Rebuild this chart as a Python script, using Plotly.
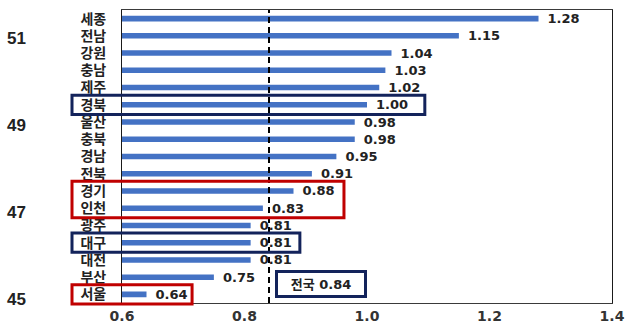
import plotly.graph_objects as go

# Regional index values (top to bottom)
regions = ["세종", "전남", "강원", "충남", "제주", "경북", "울산", "충북", "경남",
           "전북", "경기", "인천", "광주", "대구", "대전", "부산", "서울"]
values = [1.28, 1.15, 1.04, 1.03, 1.02, 1.00, 0.98, 0.98, 0.95,
          0.91, 0.88, 0.83, 0.81, 0.81, 0.81, 0.75, 0.64]
national = 0.84
x_ticks = [0.6, 0.8, 1.0, 1.2, 1.4]
left_ticks = [45, 47, 49, 51]

# highlighted groups: (first region, last region, colour, right edge in x-domain units)
navy = "#13235B"
red = "#C00000"
highlights = [
    ("경북", "경북", navy, 0.618),
    ("경기", "인천", red, 0.453),
    ("대구", "대구", navy, 0.363),
    ("서울", "서울", red, 0.143),
]

NUM_FONT = "DejaVu Sans, Liberation Sans"
KR_FONT = "Noto Sans CJK KR"

W, H = 631, 330
ML, MR, MT, MB = 0, 19, 10, 27
plot_left = 122
x_dom0 = (plot_left - ML) / (W - ML - MR)
n = len(regions)

fig = go.Figure()
fig.add_trace(go.Bar(
    y=regions, x=values, orientation="h",
    width=0.32,
    marker=dict(color="#4472C4", line=dict(width=0)),
    text=[f"\u00a0\u00a0{v:.2f}" for v in values],
    textposition="outside",
    constraintext="none",
    cliponaxis=False,
    outsidetextfont=dict(family=NUM_FONT, size=13, color="#222222", weight="bold"),
    hoverinfo="skip",
    showlegend=False,
))
# carrier for the secondary (left) scale
fig.add_trace(go.Scatter(
    x=[x_ticks[0]] * len(left_ticks), y=left_ticks, yaxis="y2",
    mode="markers", marker=dict(opacity=0), hoverinfo="skip", showlegend=False,
))

# national average line
fig.add_shape(type="line", xref="x", yref="y domain", x0=national, x1=national, y0=0, y1=1,
              line=dict(color="black", width=2, dash="6px,4px"), layer="above")

def row_dom(i):
    return 1 - (i + 0.5) / n

for first, last, col, xr in highlights:
    i0, i1 = regions.index(first), regions.index(last)
    fig.add_shape(type="rect", xref="x domain", yref="y domain",
                  x0=(72 - plot_left) / 490, x1=xr,
                  y0=row_dom(i1) - 0.56 / n, y1=row_dom(i0) + 0.56 / n,
                  line=dict(color=col, width=3), fillcolor="rgba(0,0,0,0)", layer="above")

fig.add_annotation(
    x=0.925, xref="x", y=row_dom(15.4), yref="y domain",
    xanchor="center", yanchor="middle",
    text=f"전국 {national:.2f}", showarrow=False,
    font=dict(family=NUM_FONT + ", " + KR_FONT, size=13, color="#222222", weight="bold"),
    bordercolor=navy, borderwidth=3, borderpad=3, bgcolor="white",
    width=80, height=16,
)

fig.update_layout(
    width=W, height=H,
    margin=dict(l=ML, r=MR, t=MT, b=MB, autoexpand=False),
    paper_bgcolor="white", plot_bgcolor="white",
    xaxis=dict(
        domain=[x_dom0, 1], range=[0.6, 1.4], automargin=False,
        tickvals=x_ticks, ticktext=[f"{t:.1f}" for t in x_ticks],
        showgrid=False, zeroline=False,
        showline=True, linecolor="#3a3a3a", linewidth=1, mirror=True,
        ticks="",
        tickfont=dict(family=NUM_FONT, size=14, color="#333333", weight="bold"),
    ),
    yaxis=dict(
        type="category", autorange="reversed", automargin=False,
        tickmode="array", tickvals=regions, ticktext=regions,
        showgrid=False, zeroline=False,
        showline=True, linecolor="#1a1a1a", linewidth=1, mirror=True,
        ticks="", ticklabelstandoff=12,
        tickfont=dict(family=KR_FONT, size=14, color="#222222", weight="bold"),
    ),
    yaxis2=dict(
        overlaying="y", anchor="free", position=0, side="right", automargin=False,
        range=[44.91, 51.64], tickvals=left_ticks, ticklabelstandoff=6,
        showgrid=False, zeroline=False, showline=False, ticks="",
        tickfont=dict(family="Liberation Sans, Arial", size=17, color="#222222", weight="bold"),
    ),
)

fig.write_html("out.html")
